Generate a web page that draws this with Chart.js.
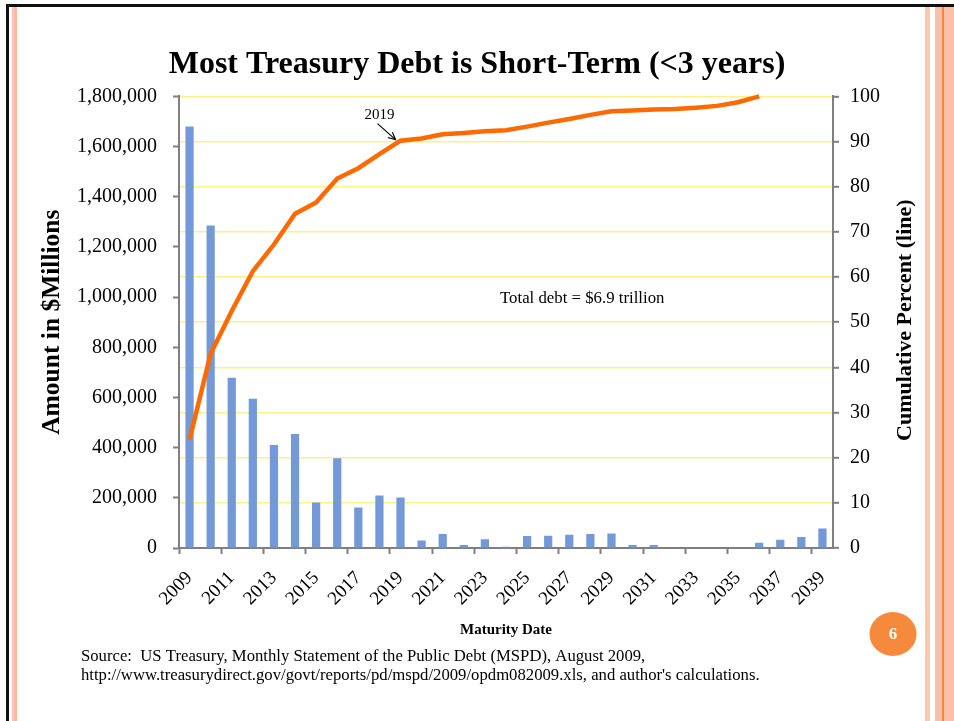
<!DOCTYPE html>
<html>
<head>
<meta charset="utf-8">
<script src="https://cdn.jsdelivr.net/npm/chart.js@4.4.1/dist/chart.umd.min.js"></script>
<style>
  html, body { margin: 0; padding: 0; background: #ffffff; }
  #wrap { position: relative; width: 954px; height: 721px; overflow: hidden; background: #fff; }
  #c { position: absolute; left: 0; top: 0; }
  .deco { position: absolute; }
</style>
</head>
<body>
<div id="wrap">
  <div class="deco" style="left:6px; top:4px; width:948px; height:3px; background:#111;"></div>
  <div class="deco" style="left:6px; top:4px; width:3px; height:717px; background:#111;"></div>
  <div class="deco" style="left:12px; top:7px; width:2px; height:714px; background:#fcc6b2;"></div>
  <div class="deco" style="left:14px; top:7px; width:3px; height:714px; background:#fdb9a2;"></div>
  <div class="deco" style="left:925px; top:7px; width:5px; height:714px; background:#fcc6b2;"></div>
  <div class="deco" style="left:935px; top:7px; width:7px; height:714px; background:#fcc0aa;"></div>
  <div class="deco" style="left:942px; top:7px; width:2px; height:714px; background:#f7863c;"></div>
  <div class="deco" style="left:944px; top:7px; width:10px; height:714px; background:#fcc0aa;"></div>
  <canvas id="c" width="954" height="721"></canvas>
</div>
<script>
// ---- data ----
const years = ['2009','2010','2011','2012','2013','2014','2015','2016','2017','2018',
               '2019','2020','2021','2022','2023','2024','2025','2026','2027','2028',
               '2029','2030','2031','2032','2033','2034','2035','2036','2037','2038','2039'];
const debtAmounts = [1680000, 1285000, 679000, 595000, 411000, 454000, 181000, 358000, 161000, 209000,
                     201000, 30000, 56000, 12000, 35000, 5000, 48000, 49000, 53000, 56000,
                     58000, 12000, 12000, 2000, 0, 0, 0, 21000, 33000, 44000, 78000];
const cumulativePercent = [24.0, 43.0, 52.5, 61.3, 67.2, 74.0, 76.5, 81.8, 84.1, 87.2,
                           90.2, 90.7, 91.6, 91.9, 92.3, 92.5, 93.3, 94.2, 95.0, 95.9,
                           96.7, 96.9, 97.1, 97.2, 97.5, 97.9, 98.7, 100, null, null, null];
const leftTicks = [0, 200000, 400000, 600000, 800000, 1000000, 1200000, 1400000, 1600000, 1800000];
const rightTicks = [0, 10, 20, 30, 40, 50, 60, 70, 80, 90, 100];
const titleText = 'Most Treasury Debt is Short-Term (<3 years)';
const leftAxisTitle = 'Amount in $Millions';
const rightAxisTitle = 'Cumulative Percent (line)';
const xAxisTitle = 'Maturity Date';
const noteText = 'Total debt = $6.9 trillion';
const arrowLabel = '2019';
const sourceLines = [
  'Source:  US Treasury, Monthly Statement of the Public Debt (MSPD), August 2009,',
  "http://www.treasurydirect.gov/govt/reports/pd/mspd/2009/opdm082009.xls, and author's calculations."
];
const slideNumber = '6';

const SERIF = "'Liberation Serif', 'DejaVu Serif', serif";
const AXIS_GRAY = '#7f7f7f';

const annotations = {
  id: 'annotations',
  afterDraw(chart) {
    const ctx = chart.ctx;
    const xs = chart.scales.x, y1 = chart.scales.y1, ca = chart.chartArea;
    ctx.save();
    // right axis title, reading bottom-to-top as in the reference
    ctx.save();
    ctx.translate(y1.right - 49, (ca.top + ca.bottom) / 2 - 2);
    ctx.rotate(-Math.PI / 2);
    ctx.fillStyle = '#000';
    ctx.font = "bold 22px " + SERIF;
    ctx.textAlign = 'center'; ctx.textBaseline = 'middle';
    ctx.fillText(rightAxisTitle, 0, 0);
    ctx.restore();
    // 2019 arrow
    const idx = years.indexOf(arrowLabel);
    const px = xs.getPixelForValue(idx);
    const py = y1.getPixelForValue(cumulativePercent[idx]);
    const x0 = px - 23, y0 = py - 17, x1 = px - 5, y1p = py - 1;
    ctx.strokeStyle = '#000'; ctx.lineWidth = 1.2;
    ctx.beginPath(); ctx.moveTo(x0, y0); ctx.lineTo(x1, y1p); ctx.stroke();
    const ang = Math.atan2(y1p - y0, x1 - x0);
    ctx.beginPath();
    ctx.moveTo(x1 - 8 * Math.cos(ang - 0.45), y1p - 8 * Math.sin(ang - 0.45));
    ctx.lineTo(x1, y1p);
    ctx.lineTo(x1 - 8 * Math.cos(ang + 0.45), y1p - 8 * Math.sin(ang + 0.45));
    ctx.stroke();
    ctx.fillStyle = '#000';
    ctx.font = "15px " + SERIF;
    ctx.textAlign = 'center'; ctx.textBaseline = 'middle';
    ctx.fillText(arrowLabel, px - 21, py - 26);
    // total debt note
    ctx.font = "16.8px " + SERIF;
    ctx.textAlign = 'left';
    ctx.fillText(noteText, ca.left + 321, ca.top + 202);
    // source text
    ctx.font = "16.7px " + SERIF;
    ctx.fillText(sourceLines[0], 81, 657);
    ctx.fillText(sourceLines[1], 81, 676);
    // slide number badge
    ctx.fillStyle = '#f68a3c';
    ctx.beginPath(); ctx.ellipse(893, 634, 23.5, 22, 0, 0, Math.PI * 2); ctx.fill();
    ctx.fillStyle = '#fff';
    ctx.font = "bold 17px " + SERIF;
    ctx.textAlign = 'center';
    ctx.fillText(slideNumber, 893, 635);
    ctx.restore();
  }
};

new Chart(document.getElementById('c'), {
  type: 'bar',
  data: {
    labels: years,
    datasets: [
      {
        type: 'line',
        label: 'Cumulative Percent',
        data: cumulativePercent,
        yAxisID: 'y1',
        borderColor: '#ff6a00',
        borderWidth: 4.5,
        pointRadius: 0,
        tension: 0,
        clip: 6,
        spanGaps: false,
        order: 0
      },
      {
        type: 'bar',
        label: 'Amount',
        data: debtAmounts,
        yAxisID: 'y',
        backgroundColor: '#7399d8',
        categoryPercentage: 1,
        barPercentage: 0.39,
        order: 1
      }
    ]
  },
  options: {
    responsive: false,
    animation: false,
    events: [],
    layout: { padding: { left: 0, right: 0, top: 0, bottom: 73 } },
    plugins: {
      legend: { display: false },
      tooltip: { enabled: false },
      title: {
        display: true,
        text: titleText,
        color: '#000',
        font: { family: SERIF, size: 32, weight: 'bold', lineHeight: 1.2 },
        padding: { top: 46, bottom: 12 }
      }
    },
    scales: {
      x: {
        type: 'category',
        offset: true,
        afterFit(s) { s.height = 100; },
        border: { color: AXIS_GRAY, width: 2 },
        grid: {
          offset: true,
          drawOnChartArea: false,
          tickLength: 6,
          tickWidth: 2,
          tickColor: (c) => (c.index % 2 === 0 ? AXIS_GRAY : 'rgba(0,0,0,0)')
        },
        ticks: {
          autoSkip: false,
          minRotation: 45,
          maxRotation: 45,
          padding: 13,
          color: '#000',
          font: { family: SERIF, size: 19 },
          callback: (v, i) => (i % 2 === 0 ? years[i] : '')
        },
        title: {
          display: true,
          text: xAxisTitle,
          color: '#000',
          font: { family: SERIF, size: 15, weight: 'bold', lineHeight: 1.2 },
          padding: { top: 0, bottom: 9 }
        }
      },
      y: {
        position: 'left',
        min: 0,
        max: 1800000,
        afterFit(s) { s.width = 179; },
        afterBuildTicks(s) { s.ticks = leftTicks.map(v => ({ value: v })); },
        border: { color: AXIS_GRAY, width: 2 },
        grid: { drawOnChartArea: false, tickLength: 6, tickWidth: 2, tickColor: AXIS_GRAY },
        ticks: {
          padding: 16,
          color: '#000',
          font: { family: SERIF, size: 20 },
          callback: (v) => Number(v).toLocaleString('en-US')
        },
        title: {
          display: true,
          text: leftAxisTitle,
          color: '#000',
          font: { family: SERIF, size: 25.5, weight: 'bold', lineHeight: 1.2 },
          padding: { top: 37, bottom: 0 }
        }
      },
      y1: {
        position: 'right',
        min: 0,
        max: 100,
        afterFit(s) { s.width = 121; },
        afterBuildTicks(s) { s.ticks = rightTicks.map(v => ({ value: v })); },
        border: { color: AXIS_GRAY, width: 2 },
        grid: {
          drawOnChartArea: true,
          color: (c) => (c.tick && c.tick.value === 0 ? 'rgba(0,0,0,0)' : '#fff08c'),
          lineWidth: 1.6,
          tickLength: 6,
          tickWidth: 2,
          tickColor: AXIS_GRAY
        },
        ticks: {
          padding: 11,
          color: '#000',
          font: { family: SERIF, size: 20 }
        },
        title: { display: false }
      }
    }
  },
  plugins: [annotations]
});
</script>
</body>
</html>
